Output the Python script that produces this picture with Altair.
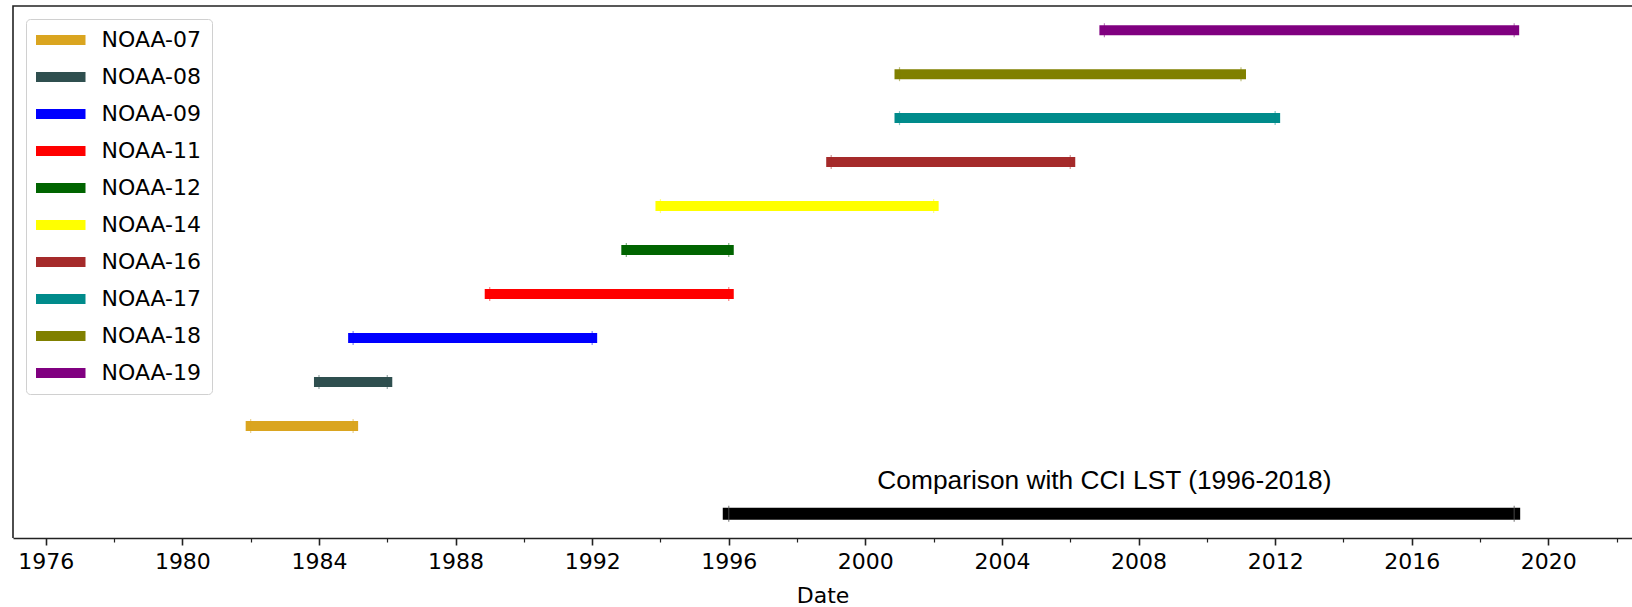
import altair as alt
import pandas as pd

# ---- data ----
satellites = ["NOAA-07", "NOAA-08", "NOAA-09", "NOAA-11", "NOAA-12",
              "NOAA-14", "NOAA-16", "NOAA-17", "NOAA-18", "NOAA-19"]
start_year = [1982, 1984, 1985, 1989, 1993, 1994, 1999, 2001, 2001, 2007]
end_year = [1985, 1986, 1992, 1996, 1996, 2002, 2006, 2012, 2011, 2019]
rows = [1, 2, 3, 4, 5, 6, 7, 8, 9, 10]
colors = ["#daa520", "#2f4f4f", "#0000ff", "#ff0000", "#006400",
          "#ffff00", "#a52a2a", "#008b8b", "#808000", "#800080"]

cmp_label = ["Comparison with CCI LST (1996-2018)"]
cmp_start = [1996]
cmp_end = [2019]
cmp_row = [-1]
cmp_text_x = [2007]
cmp_text_y = [-0.25]

year_ticks = list(range(1975, 2023))
x_domain = [1975.04, 2022.45]
y_domain = [-1.55, 10.55]

# ---- layout ----
PAD_L, PAD_T = 13, 6
W = 1632 - PAD_L
H = 532
PAD_B = 607 - PAD_T - H

df = pd.DataFrame({"sat": satellites, "start": start_year, "end": end_year, "row": rows})
pts = pd.concat([
    pd.DataFrame({"sat": satellites, "year": start_year, "row": rows}),
    pd.DataFrame({"sat": satellites, "year": end_year, "row": rows}),
])
cmp_df = pd.DataFrame({"label": cmp_label, "start": cmp_start, "end": cmp_end, "row": cmp_row,
                       "tx": cmp_text_x, "ty": cmp_text_y})
cmp_pts = pd.DataFrame({"year": cmp_start + cmp_end, "row": cmp_row * 2})

xs = alt.Scale(domain=x_domain, nice=False, zero=False)
ys = alt.Scale(domain=y_domain, nice=False, zero=False)

xaxis = alt.Axis(
    values=year_ticks,
    labelExpr="datum.value % 4 === 0 ? datum.value : ''",
    tickSize={"condition": {"test": "datum.value % 4 === 0", "value": 7}, "value": 4},
    tickWidth={"condition": {"test": "datum.value % 4 === 0", "value": 1.6}, "value": 1.2},
    tickColor="#222",
    domainColor="#222",
    domainWidth=1.6,
    grid=False,
    labelFont="DejaVu Sans",
    labelFontSize=22,
    labelColor="#000",
    labelPadding=6,
    labelFlush=False,
    labelOverlap=False,
    title="Date",
    titleFont="DejaVu Sans",
    titleFontSize=22,
    titleFontWeight="normal",
    titleColor="#000",
    titlePadding=13,
)

color = alt.Color(
    "sat:N",
    scale=alt.Scale(domain=satellites, range=colors),
    legend=alt.Legend(
        title=None,
        orient="none",
        legendX=13,
        legendY=13,
        symbolType="stroke",
        symbolStrokeWidth=10,
        symbolSize=3600,
        symbolOpacity=1,
        symbolOffset=-15.5,
        clipHeight=22,
        labelFont="DejaVu Sans",
        labelFontSize=22,
        labelColor="#000",
        labelOffset=11,
        rowPadding=15,
        padding=10,
        strokeColor="#d0d0d0",
        fillColor="white",
        cornerRadius=4,
    ),
)

bars = alt.Chart(df).mark_rule(strokeWidth=10, strokeCap="square").encode(
    x=alt.X("start:Q", scale=xs, axis=xaxis),
    x2="end:Q",
    y=alt.Y("row:Q", scale=ys, axis=None),
    color=color,
)

markers = alt.Chart(pts).mark_tick(orient="vertical", thickness=1.2, size=14, opacity=0.5).encode(
    x=alt.X("year:Q", scale=xs),
    y=alt.Y("row:Q", scale=ys),
    color=alt.Color("sat:N", scale=alt.Scale(domain=satellites, range=colors), legend=None),
)

cmp_bar = alt.Chart(cmp_df).mark_rule(strokeWidth=12, strokeCap="square", color="black").encode(
    x=alt.X("start:Q", scale=xs),
    x2="end:Q",
    y=alt.Y("row:Q", scale=ys),
)

cmp_markers = alt.Chart(cmp_pts).mark_tick(orient="vertical", thickness=1.2, size=16, color="#555").encode(
    x=alt.X("year:Q", scale=xs),
    y=alt.Y("row:Q", scale=ys),
)

cmp_text = alt.Chart(cmp_df).mark_text(font="Liberation Sans", fontSize=26.3, align="center",
                                       baseline="middle", color="black").encode(
    x=alt.X("tx:Q", scale=xs),
    y=alt.Y("ty:Q", scale=ys),
    text="label:N",
)

chart = alt.layer(bars, markers, cmp_bar, cmp_markers, cmp_text).resolve_scale(
    color="independent"
).properties(
    width=W,
    height=H,
    padding={"left": PAD_L, "top": PAD_T, "right": 0, "bottom": PAD_B},
    autosize=alt.AutoSizeParams(type="none"),
    background="white",
).configure_view(
    stroke="#222",
    strokeWidth=1.6,
    strokeDash=[W, W + H, H],
)

chart.save("out.html", embed_options={"renderer": "svg", "actions": False})
